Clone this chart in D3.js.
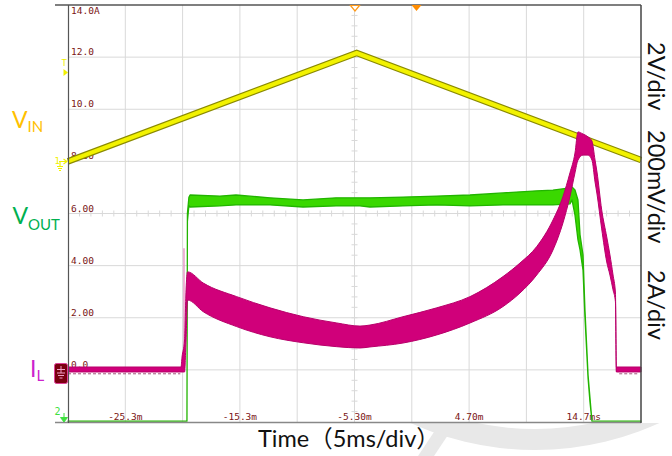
<!DOCTYPE html>
<html><head><meta charset="utf-8">
<script src="https://cdn.jsdelivr.net/npm/d3@7"></script>
<style>body{margin:0;background:#fff}svg{display:block}</style>
</head><body>
<svg id="c" width="672" height="456"></svg>
<script>
// ---- data (time in ms, values in screen-grid units: 2 units/div, 0 at IL ground) ----
const xTickTimes  = [-25.3, -15.3, -5.3, 4.7, 14.7];
const xTickLabels = ["-25.3m", "-15.3m", "-5.30m", "4.70m", "14.7ms"];
const yTickValues = [0, 2, 4, 6, 8, 10, 12, 14];
const yTickLabels = ["0.0", "2.00", "4.00", "6.00", "8.00", "10.0", "12.0", "14.0A"];

const vinT = [-30.3, -5.11, 19.7];
const vinV = [8.00, 12.16, 8.05];

const voutT  = [-30.3, -19.92, -19.88, -19.75, -19.65, -17.04, -15.64, -12.67, -9.79, -6.91, -4.82, -3.95, -1.07, 1.87, 4.78, 7.66, 10.60, 12.02, 13.50, 13.68, 13.94, 14.20, 14.38, 14.64, 14.81, 15.08, 15.25, 15.42, 19.7];
const voutLo = [-1.97, -1.97, 5.70, 6.30, 6.25, 6.29, 6.33, 6.33, 6.25, 6.29, 6.29, 6.25, 6.29, 6.33, 6.29, 6.33, 6.33, 6.33, 6.37, 6.52, 5.94, 4.99, 4.60, 3.83, 2.03, -0.31, -1.24, -1.97, -1.97];
const voutHi = [-1.97, -1.97, 6.00, 6.62, 6.71, 6.67, 6.71, 6.60, 6.52, 6.60, 6.60, 6.60, 6.63, 6.67, 6.71, 6.79, 6.87, 6.90, 6.98, 7.02, 6.90, 6.52, 5.18, 4.41, 2.30, -0.20, -1.08, -1.97, -1.97];

const ilT  = [-30.3, -20.44, -20.35, -20.13, -20.00, -19.87, -18.49, -15.58, -12.67, -9.77, -6.85, -4.82, -3.95, -1.07, 1.87, 4.78, 7.66, 9.14, 10.60, 12.02, 12.89, 13.50, 13.94, 14.20, 14.64, 15.08, 15.42, 15.69, 15.86, 16.27, 16.71, 16.99, 17.26, 17.47, 17.55, 19.7];
const ilLo = [-0.08, -0.08, -0.08, -0.08, 1.15, 2.68, 2.23, 1.66, 1.27, 1.04, 0.89, 0.84, 0.88, 1.03, 1.34, 1.80, 2.43, 2.95, 3.64, 4.60, 5.64, 6.65, 7.56, 8.05, 8.24, 8.24, 8.05, 7.21, 6.75, 5.41, 4.14, 3.64, 3.07, 2.61, -0.08, -0.08];
const ilHi = [0.11, 0.11, 0.49, 1.15, 3.07, 3.76, 3.33, 2.81, 2.38, 2.04, 1.80, 1.68, 1.72, 2.04, 2.38, 2.81, 3.58, 4.10, 4.73, 5.75, 6.65, 7.56, 8.32, 9.13, 9.05, 8.94, 8.78, 8.05, 7.59, 6.14, 5.10, 4.41, 3.64, 2.95, 0.11, 0.11];
const ilSpikeT = -20.18, ilSpikeV = [-0.08, 4.67];
const ilNoiseSegs = [[-30.3, -20.5], [17.8, 19.4]];

const sideLabels = ["2V/div", "200mV/div", "2A/div"];

// ---- scales ----
const svg = d3.select("#c");
const x = d3.scaleLinear().domain([-30.3, 19.7]).range([68, 641]);
const y = d3.scaleLinear().domain([-2, 14]).range([422, 5]);
const gridCol = "#d9d9d9";

// watermark
const defs = svg.append("defs");
defs.append("clipPath").attr("id", "wm").append("rect").attr("x", 0).attr("y", 423).attr("width", 672).attr("height", 33);
const wm = svg.append("g").attr("clip-path", "url(#wm)").attr("fill", "#e8e8e8");
wm.append("path").attr("transform", "translate(535,150)")
  .attr("d", d3.arc().innerRadius(279).outerRadius(300).startAngle(Math.PI * 0.7).endAngle(Math.PI * 1.3)());
wm.append("path").attr("d", "M440,423 L456,423 L434,456 L418,456 Z");

// grid
const g = svg.append("g");
for (let i = 1; i < 10; i++) {
  const t = -30.3 + 5 * i;
  g.append("line").attr("x1", x(t)).attr("x2", x(t)).attr("y1", y(14)).attr("y2", y(-2)).attr("stroke", gridCol);
}
for (let j = 1; j < 8; j++) {
  const v = -2 + 2 * j;
  g.append("line").attr("x1", x(-30.3)).attr("x2", x(19.7)).attr("y1", y(v)).attr("y2", y(v)).attr("stroke", gridCol);
}
// minor ticks on center lines
for (let k = 1; k < 40; k++) {
  const v = -2 + 0.4 * k;
  g.append("line").attr("x1", x(-5.3) - 3).attr("x2", x(-5.3) + 3).attr("y1", y(v)).attr("y2", y(v)).attr("stroke", gridCol);
}
for (let k = 1; k < 50; k++) {
  const t = -30.3 + 1 * k;
  g.append("line").attr("x1", x(t)).attr("x2", x(t)).attr("y1", y(6) - 3).attr("y2", y(6) + 3).attr("stroke", gridCol);
}

// axis labels (scope style)
const lab = svg.append("g").attr("font-family", "DejaVu Sans Mono, monospace").attr("font-size", 9.5).attr("fill", "#7a1414");
yTickValues.forEach((v, i) => lab.append("text").attr("x", 71).attr("y", v === 14 ? y(v) + 8.5 : y(v) - 2).text(yTickLabels[i]));
xTickTimes.forEach((t, i) => lab.append("text").attr("x", x(t)).attr("y", 420).attr("text-anchor", "middle").text(xTickLabels[i]));

// VIN
const vinData = vinT.map((t, i) => [t, vinV[i]]);
const vinLine = d3.line().x(d => x(d[0])).y(d => y(d[1]));
svg.append("path").attr("d", vinLine(vinData)).attr("fill", "none").attr("stroke", "#8a8a00").attr("stroke-width", 6.5);
svg.append("path").attr("d", vinLine(vinData)).attr("fill", "none").attr("stroke", "#f2f200").attr("stroke-width", 4.2);

// VOUT band
const voutData = voutT.map((t, i) => [t, voutLo[i], voutHi[i]]);
svg.append("path").attr("d", d3.area().x(d => x(d[0])).y0(d => y(d[1])).y1(d => y(d[2]))(voutData))
  .attr("fill", "#3ad800").attr("stroke", "#22b400").attr("stroke-width", 1.3).attr("stroke-linejoin", "round");

// IL band
svg.append("line").attr("x1", x(ilSpikeT)).attr("x2", x(ilSpikeT)).attr("y1", y(ilSpikeV[0])).attr("y2", y(ilSpikeV[1]))
  .attr("stroke", "#e58cc0").attr("stroke-width", 1.3);
const ilData = ilT.map((t, i) => [t, ilLo[i], ilHi[i]]);
svg.append("path").attr("d", d3.area().x(d => x(d[0])).y0(d => y(d[1])).y1(d => y(d[2])).curve(d3.curveMonotoneX)(ilData))
  .attr("fill", "#d0007a").attr("stroke", "#b8006a").attr("stroke-width", 1).attr("stroke-linejoin", "round");
ilNoiseSegs.forEach(s => svg.append("line").attr("x1", x(s[0])).attr("x2", x(s[1])).attr("y1", y(-0.15)).attr("y2", y(-0.15))
  .attr("stroke", "#8a2a5a").attr("stroke-width", 0.8).attr("stroke-dasharray", "3,2"));

// frame
const fr = svg.append("g").attr("fill", "none");
fr.append("line").attr("x1", 55).attr("x2", 641).attr("y1", 5).attr("y2", 5).attr("stroke", "#555").attr("stroke-width", 1.5);
fr.append("line").attr("x1", 55).attr("x2", 641).attr("y1", 422.5).attr("y2", 422.5).attr("stroke", "#888").attr("stroke-width", 1.5);
fr.append("line").attr("x1", 68.5).attr("x2", 68.5).attr("y1", 5).attr("y2", 423).attr("stroke", "#555").attr("stroke-width", 1.2);
fr.append("line").attr("x1", 641).attr("x2", 641).attr("y1", 5).attr("y2", 423).attr("stroke", "#444").attr("stroke-width", 1.5);

// scope markers
svg.append("path").attr("d", "M350.5,5.5 L359.5,5.5 L355,11 Z").attr("fill", "#fff").attr("stroke", "#ff9a1a").attr("stroke-width", 1.2);
svg.append("path").attr("d", "M411.5,5 L421.5,5 L416.5,11 Z").attr("fill", "#ff8c00");
svg.append("text").attr("x", 61.5).attr("y", 66).attr("font-size", 9).attr("font-family", "DejaVu Sans Mono").attr("fill", "#f0f000").text("T");
svg.append("path").attr("d", "M63.5,69 L68,72.5 L63.5,76 Z").attr("fill", "#f0f000");
svg.append("text").attr("x", 54.5).attr("y", 164).attr("font-size", 9).attr("font-family", "DejaVu Sans Mono").attr("fill", "#f0f000").text("1");
svg.append("path").attr("d", "M59,161.5 L66,161.5 M63.5,159 L67,161.5 L63.5,164 M60,161.5 L60,166 M57,166.5 L63,166.5 M58,168.5 L62,168.5 M59,170.5 L61,170.5")
  .attr("stroke", "#f0f000").attr("stroke-width", 1.1).attr("fill", "none");
svg.append("rect").attr("x", 54.5).attr("y", 363.5).attr("width", 13).attr("height", 20).attr("rx", 2).attr("fill", "#7a0010").attr("stroke", "#e0409a");
svg.append("path").attr("d", "M61,366 L61,373 M57,373 L65,373 M58,375.5 L64,375.5 M59.5,378 L62.5,378 M57,369.5 L65,369.5")
  .attr("stroke", "#f0a0c8").attr("stroke-width", 1).attr("fill", "none");
svg.append("text").attr("x", 54.5).attr("y", 415).attr("font-size", 10).attr("font-family", "DejaVu Sans Mono").attr("fill", "#3ee03e").text("2");
svg.append("path").attr("d", "M64,413 L64,418 M60.5,417.5 L67.5,417.5 L64,422 Z").attr("stroke", "#3ee03e").attr("fill", "#3ee03e").attr("stroke-width", 1);

// channel names
const tf = "Lato, 'Noto Sans CJK SC', sans-serif";
const vin = svg.append("text").attr("x", 12).attr("y", 127.5).attr("font-family", tf).attr("font-size", 23).attr("fill", "#ffc000");
vin.append("tspan").text("V"); vin.append("tspan").attr("font-size", 15).attr("dy", 4.5).text("IN");
const vo = svg.append("text").attr("x", 12.5).attr("y", 223.5).attr("font-family", tf).attr("font-size", 23).attr("fill", "#00b050");
vo.append("tspan").text("V"); vo.append("tspan").attr("font-size", 15).attr("dy", 6).text("OUT");
const il = svg.append("text").attr("x", 30).attr("y", 377).attr("font-family", tf).attr("font-size", 23).attr("fill", "#cc22cc");
il.append("tspan").text("I"); il.append("tspan").attr("font-size", 15).attr("dy", 4).text("L");

// right side scale labels
const sideY = [42, 130, 270];
sideLabels.forEach((s, i) => svg.append("text").attr("transform", `translate(648,${sideY[i]}) rotate(90)`)
  .attr("font-family", tf).attr("font-size", 23.5).attr("fill", "#111").text(s));

// x title
svg.append("text").attr("x", 258).attr("y", 447).attr("font-family", tf).attr("font-size", 23.5).attr("fill", "#111").text("Time（5ms/div）");
</script>
</body></html>
